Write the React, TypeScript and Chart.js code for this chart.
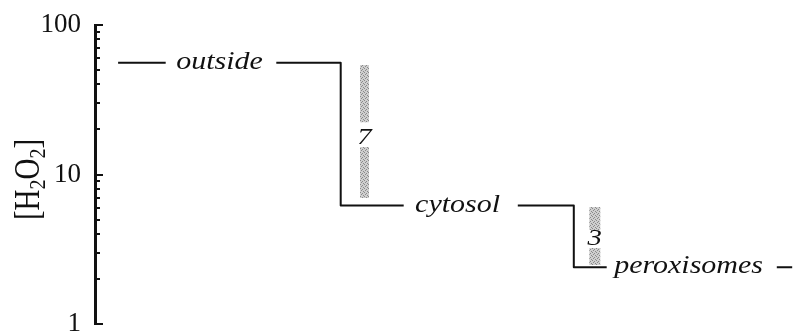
import { useEffect, useRef } from 'react';
import { Chart, registerables } from 'chart.js';

Chart.register(...registerables);

// Step profile of [H2O2] across compartments (x in arbitrary horizontal units, y in concentration)
const pathX = [3.3, 10.1, 17.8, 25.9, 35.1, 35.1, 44.1, 51.8, 60.4, 68.4, 68.4, 73.1, 84.8, 97.4, 99.6];
const pathY: (number | null)[] = [56, 56, null, 56, 56, 6.2, 6.2, null, 6.2, 6.2, 2.4, 2.4, null, 2.4, 2.4];

const compartmentLabels = ['outside', 'cytosol', 'peroxisomes'];
const compartmentX = [17.8, 51.8, 84.8];
const compartmentLevel = [56, 6.2, 2.4];

// Gradient bars (fold differences)
const gradientLabels = ['7', '3'];
const gradientX = [38.5, 71.4];
const gradientTop = [54, 6.06];
const gradientGapTop = [22.4, 4.25];
const gradientLabelY = [17.8, 3.8];
const gradientGapBottom = [15.3, 3.22];
const gradientBottom = [6.96, 2.48];
const gradientWidth = [9, 11];

const yTickValues = [1, 10, 100];

const SERIF = "'Liberation Serif', 'Times New Roman', serif";
const INK = '#111111';
const STRETCH = 1.2;

function makePattern(): CanvasPattern | string {
  const c = document.createElement('canvas');
  c.width = 4;
  c.height = 4;
  const g = c.getContext('2d');
  if (!g) return '#bbbbbb';
  g.fillStyle = '#cfcfcf';
  g.fillRect(0, 0, 4, 4);
  g.fillStyle = '#8a8a8a';
  [[0, 0], [2, 1], [1, 2], [3, 3]].forEach(([x, y]) => g.fillRect(x, y, 1, 1));
  return g.createPattern(c, 'repeat') || '#bbbbbb';
}

const annotationPlugin = {
  id: 'annotations',
  afterDatasetsDraw(chart: any) {
    const ctx = chart.ctx as CanvasRenderingContext2D;
    const xs = chart.scales.x;
    const ys = chart.scales.y;
    const area = chart.chartArea;

    ctx.save();
    // inward ticks on the log axis
    ctx.strokeStyle = INK;
    ctx.lineWidth = 2;
    for (let d = 1; d < 100; d *= 10) {
      for (let m = 1; m <= 10; m++) {
        const v = d * m;
        if (v > 100) continue;
        const major = m === 1 || m === 10;
        const y = Math.round(ys.getPixelForValue(v));
        ctx.beginPath();
        ctx.moveTo(area.left, y);
        ctx.lineTo(area.left + (major ? 8 : 5), y);
        ctx.stroke();
      }
    }

    ctx.fillStyle = INK;
    // compartment labels
    compartmentLabels.forEach((t, i) => {
      const px = xs.getPixelForValue(compartmentX[i]);
      const py = ys.getPixelForValue(compartmentLevel[i]);
      ctx.save();
      ctx.translate(px, py);
      ctx.scale(STRETCH, 1);
      ctx.font = `italic 25px ${SERIF}`;
      ctx.textAlign = 'center';
      ctx.textBaseline = 'alphabetic';
      ctx.fillText(t, 0, 6);
      ctx.restore();
    });

    // gradient labels
    gradientLabels.forEach((t, i) => {
      const px = xs.getPixelForValue(gradientX[i]);
      const py = ys.getPixelForValue(gradientLabelY[i]);
      ctx.save();
      ctx.translate(px, py);
      ctx.scale(STRETCH, 1);
      ctx.font = `italic 24px ${SERIF}`;
      ctx.textAlign = 'center';
      ctx.textBaseline = 'middle';
      ctx.fillText(t, 0, 1);
      ctx.restore();
    });

    // axis title [H2O2]
    const ty = ys.getPixelForValue(10) + 5;
    ctx.save();
    ctx.translate(27, ty);
    ctx.scale(STRETCH, 1);
    ctx.rotate(-Math.PI / 2);
    ctx.textBaseline = 'alphabetic';
    ctx.textAlign = 'left';
    const big = `29px ${SERIF}`;
    const small = `20px ${SERIF}`;
    const parts: [string, string, number][] = [
      ['[H', big, 0],
      ['2', small, 5],
      ['O', big, 0],
      ['2', small, 5],
      [']', big, 0],
    ];
    let total = 0;
    parts.forEach(([s, f]) => {
      ctx.font = f;
      total += ctx.measureText(s).width;
    });
    let cx = -total / 2;
    parts.forEach(([s, f, dy]) => {
      ctx.font = f;
      ctx.fillText(s, cx, 10 + dy);
      cx += ctx.measureText(s).width;
    });
    ctx.restore();

    ctx.restore();
  },
};

export default function App() {
  const ref = useRef<HTMLCanvasElement | null>(null);

  useEffect(() => {
    if (!ref.current) return;
    const pattern = makePattern();

    const gradientDatasets = gradientX.map((gx, i) => ({
      label: `gradient ${gradientLabels[i]}`,
      data: [
        { x: gx, y: gradientTop[i] },
        { x: gx, y: gradientGapTop[i] },
        { x: gx, y: null },
        { x: gx, y: gradientGapBottom[i] },
        { x: gx, y: gradientBottom[i] },
      ],
      borderColor: pattern,
      borderWidth: gradientWidth[i],
      borderCapStyle: 'butt',
      pointRadius: 0,
      spanGaps: false,
      fill: false,
    }));

    const chart = new Chart(ref.current, {
      type: 'line',
      data: {
        datasets: [
          {
            label: '[H2O2]',
            data: pathX.map((x, i) => ({ x, y: pathY[i] })),
            borderColor: INK,
            borderWidth: 2,
            borderJoinStyle: 'round',
            pointRadius: 0,
            spanGaps: false,
            fill: false,
            tension: 0,
          },
          ...gradientDatasets,
        ] as any,
      },
      options: {
        animation: false,
        responsive: true,
        maintainAspectRatio: false,
        layout: { padding: { left: 0, right: 0, top: 25, bottom: 9 } },
        plugins: { legend: { display: false }, tooltip: { enabled: false }, title: { display: false } },
        scales: {
          x: { type: 'linear', min: 0, max: 100, display: false },
          y: {
            type: 'logarithmic',
            min: 1,
            max: 100,
            afterBuildTicks: (scale: any) => {
              scale.ticks = yTickValues.map((v) => ({ value: v }));
            },
            afterFit: (scale: any) => {
              scale.width = 95;
              scale.paddingTop = 0;
              scale.paddingBottom = 0;
            },
            grid: { display: true, drawOnChartArea: false, drawTicks: false },
            border: { display: true, color: INK, width: 3 },
            ticks: {
              padding: 14,
              color: INK,
              font: { family: SERIF, size: 27 },
              callback: (v: any) => String(v),
            },
          },
        },
      } as any,
      plugins: [annotationPlugin],
    });
    return () => chart.destroy();
  }, []);

  return (
    <div style={{ position: 'absolute', left: 0, top: 0, width: 795, height: 333, background: '#fff' }}>
      <canvas ref={ref} />
    </div>
  );
}
